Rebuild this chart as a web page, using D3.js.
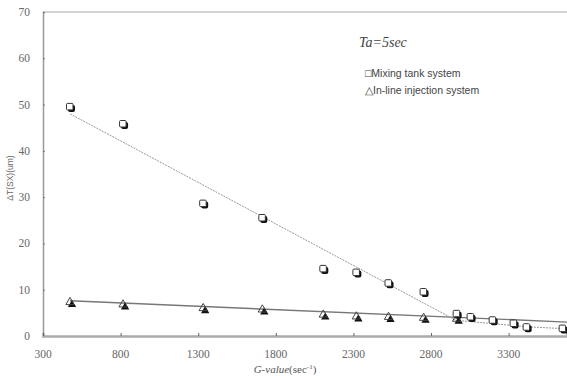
<!DOCTYPE html>
<html>
<head>
<meta charset="utf-8">
<script src="https://cdn.jsdelivr.net/npm/d3@7"></script>
<style>
  body { margin: 0; background: #fff; }
  svg { display: block; }
</style>
</head>
<body>
<div id="chart"></div>
<script>
// values
var gMixing = [474, 816, 1332, 1713, 2106, 2319, 2526, 2752, 2965, 3055, 3197, 3332, 3416, 3648];
var mixingValues = [49.5, 45.8, 28.6, 25.5, 14.5, 13.7, 11.4, 9.5, 4.8, 4.1, 3.4, 2.7, 1.9, 1.6];
var gInline = [474, 816, 1332, 1713, 2106, 2319, 2526, 2752, 2965];
var inlineValues = [7.3, 6.8, 6.0, 5.7, 4.6, 4.2, 4.1, 3.9, 3.7];
var mixingTrendG = [474, 2960, 3416, 3648];
var mixingTrendValues = [48, 3.4, 2.0, 1.6];
var inlineTrendG = [474, 3680];
var inlineTrendValues = [7.6, 3.0];
var xTicks = [300, 800, 1300, 1800, 2300, 2800, 3300];
var yTicks = [0, 10, 20, 30, 40, 50, 60, 70];

var W = 567, H = 376;
var margin = { left: 43, right: 567, top: 12, bottom: 336 };

var svg = d3.select("#chart").append("svg")
  .attr("width", W)
  .attr("height", H);

var x = d3.scaleLinear().domain([300, 3676]).range([margin.left, margin.right]);
var y = d3.scaleLinear().domain([0, 70]).range([margin.bottom, margin.top]);

// frame: top line + left axis
svg.append("line")
  .attr("x1", margin.left).attr("x2", margin.right)
  .attr("y1", margin.top).attr("y2", margin.top)
  .attr("stroke", "#aaa").attr("stroke-width", 1);

var yAxis = svg.append("g")
  .attr("transform", "translate(" + margin.left + ",0)")
  .call(d3.axisRight(y).tickValues(yTicks).tickSize(2).tickFormat(""));
yAxis.select(".domain").attr("stroke", "#999").attr("stroke-width", 1.5);
yAxis.selectAll(".tick line").attr("stroke", "#777");

var xAxis = svg.append("g")
  .attr("transform", "translate(0," + margin.bottom + ")")
  .call(d3.axisTop(x).tickValues(xTicks).tickSize(3).tickFormat(""));
xAxis.select(".domain").attr("stroke", "#aaa").attr("stroke-width", 2.5);
xAxis.selectAll(".tick line").attr("stroke", "#666");

// tick labels
svg.append("g").selectAll("text")
  .data(yTicks)
  .enter().append("text")
  .attr("x", 30)
  .attr("y", function (d) { return y(d) + 4; })
  .attr("text-anchor", "end")
  .attr("font-family", "Liberation Serif, serif")
  .attr("font-size", 11.5)
  .attr("fill", "#666")
  .text(function (d) { return d; });

svg.append("g").selectAll("text")
  .data(xTicks)
  .enter().append("text")
  .attr("x", function (d) { return x(d); })
  .attr("y", 358)
  .attr("text-anchor", "middle")
  .attr("font-family", "Liberation Serif, serif")
  .attr("font-size", 11.5)
  .attr("fill", "#666")
  .text(function (d) { return d; });

// axis titles
var xt = svg.append("text")
  .attr("x", 285).attr("y", 373)
  .attr("text-anchor", "middle")
  .attr("font-family", "Liberation Serif, serif")
  .attr("font-size", 11)
  .attr("fill", "#555");
xt.append("tspan").attr("font-style", "italic").text("G-value");
xt.append("tspan").text("(sec");
xt.append("tspan").attr("dy", -4).attr("font-size", 7).text("-1");
xt.append("tspan").attr("dy", 4).text(")");

svg.append("text")
  .attr("transform", "translate(13,178) rotate(-90)")
  .attr("text-anchor", "middle")
  .attr("font-family", "Liberation Sans, Arial, sans-serif")
  .attr("font-size", 8.5)
  .attr("fill", "#666")
  .text("ΔT(SX)(um)");

// trend lines
var line = d3.line()
  .x(function (d) { return x(d[0]); })
  .y(function (d) { return y(d[1]); });

svg.append("path")
  .datum(d3.zip(inlineTrendG, inlineTrendValues))
  .attr("d", line)
  .attr("fill", "none")
  .attr("stroke", "#777")
  .attr("stroke-width", 1.4);

svg.append("path")
  .datum(d3.zip(mixingTrendG, mixingTrendValues))
  .attr("d", line)
  .attr("fill", "none")
  .attr("stroke", "#999")
  .attr("stroke-width", 1)
  .attr("stroke-dasharray", "2,1");

// in-line triangles: black shadow + white outline
var tri = d3.symbol().type(d3.symbolTriangle).size(30);
var inlinePts = d3.zip(gInline, inlineValues);
svg.append("g").selectAll("path")
  .data(inlinePts)
  .enter().append("path")
  .attr("d", tri)
  .attr("transform", function (d) { return "translate(" + (x(d[0]) + 2) + "," + (y(d[1]) + 2.5) + ")"; })
  .attr("fill", "#111");
svg.append("g").selectAll("path")
  .data(inlinePts)
  .enter().append("path")
  .attr("d", tri)
  .attr("transform", function (d) { return "translate(" + x(d[0]) + "," + y(d[1]) + ")"; })
  .attr("fill", "none")
  .attr("stroke", "#444")
  .attr("stroke-width", 1);

// mixing tank squares: black shadow + white square
var mixPts = d3.zip(gMixing, mixingValues);
svg.append("g").selectAll("rect")
  .data(mixPts)
  .enter().append("rect")
  .attr("x", function (d) { return x(d[0]) - 2; })
  .attr("y", function (d) { return y(d[1]) - 2; })
  .attr("width", 7).attr("height", 7)
  .attr("rx", 2)
  .attr("fill", "#111");
svg.append("g").selectAll("rect")
  .data(mixPts)
  .enter().append("rect")
  .attr("x", function (d) { return x(d[0]) - 3.5; })
  .attr("y", function (d) { return y(d[1]) - 3.5; })
  .attr("width", 6.5).attr("height", 6.5)
  .attr("rx", 1)
  .attr("fill", "#fff")
  .attr("stroke", "#333")
  .attr("stroke-width", 1);

// annotation and legend
svg.append("text")
  .attr("x", 359).attr("y", 47)
  .attr("font-family", "Liberation Serif, serif")
  .attr("font-style", "italic")
  .attr("font-size", 14)
  .attr("fill", "#444")
  .text("Ta=5sec");

svg.append("text")
  .attr("x", 365).attr("y", 77)
  .attr("font-family", "Liberation Sans, Arial, sans-serif")
  .attr("font-size", 10.5)
  .attr("fill", "#444")
  .text("□Mixing tank system");

svg.append("text")
  .attr("x", 365).attr("y", 94)
  .attr("font-family", "Liberation Sans, Arial, sans-serif")
  .attr("font-size", 10.5)
  .attr("fill", "#444")
  .text("△In-line injection system");
</script>
</body>
</html>
